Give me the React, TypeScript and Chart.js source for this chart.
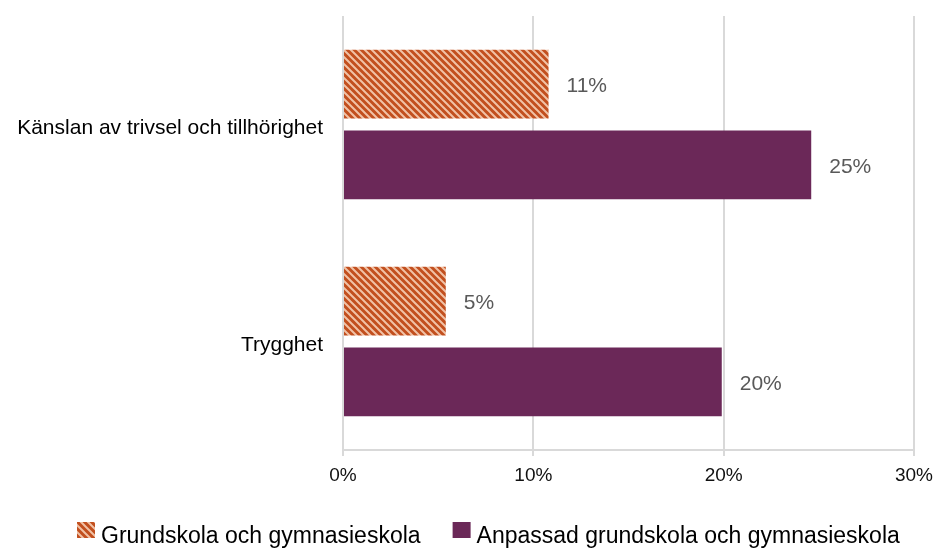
import React, { useEffect, useRef } from "react";
import { Chart, registerables } from "chart.js";

Chart.register(...registerables);

const categories = ["Känslan av trivsel och tillhörighet", "Trygghet"];
const seriesNames = ["Grundskola och gymnasieskola", "Anpassad grundskola och gymnasieskola"];
const grundValues = [10.8, 5.4];
const anpassadValues = [24.6, 19.9];
const xTicks = [0, 10, 20, 30];

const FONT = "'Liberation Sans', Arial, sans-serif";

function makeHatch(): CanvasPattern | string {
  const size = 7;
  const c = document.createElement("canvas");
  c.width = size;
  c.height = size;
  const g = c.getContext("2d");
  if (!g) return "#C4511F";
  g.fillStyle = "#C24F1E";
  g.fillRect(0, 0, size, size);
  g.strokeStyle = "#F1C2A6";
  g.lineWidth = 2;
  g.beginPath();
  g.moveTo(-1, -1);
  g.lineTo(size + 1, size + 1);
  g.moveTo(-1, size - 1);
  g.lineTo(1, size + 1);
  g.moveTo(size - 1, -1);
  g.lineTo(size + 1, 1);
  g.stroke();
  const p = g.createPattern(c, "repeat");
  return p || "#C4511F";
}

const dataLabelPlugin = {
  id: "dataLabels",
  afterDatasetsDraw(chart: any) {
    const ctx = chart.ctx;
    ctx.save();
    ctx.font = `21px ${FONT}`;
    ctx.fillStyle = "#595959";
    ctx.textAlign = "left";
    ctx.textBaseline = "middle";
    chart.data.datasets.forEach((ds: any, di: number) => {
      const meta = chart.getDatasetMeta(di);
      meta.data.forEach((el: any, i: number) => {
        const v = ds.data[i];
        ctx.fillText(Math.round(v) + "%", el.x + 18, el.y + 2);
      });
    });
    ctx.restore();
  },
};

const customLegendPlugin = {
  id: "customLegend",
  afterDraw(chart: any) {
    const ctx = chart.ctx;
    ctx.save();
    ctx.font = `23px ${FONT}`;
    const boxW = 18;
    const boxH = 16;
    const gapBoxText = 6;
    const gapItems = 32;
    let x = 77;
    const boxTop = 522;
    const baseline = 543;
    chart.data.datasets.forEach((ds: any) => {
      const tw = ctx.measureText(ds.label).width;
      ctx.fillStyle = ds.backgroundColor;
      ctx.fillRect(x, boxTop, boxW, boxH);
      ctx.fillStyle = "#000000";
      ctx.textAlign = "left";
      ctx.textBaseline = "alphabetic";
      ctx.fillText(ds.label, x + boxW + gapBoxText, baseline);
      x += boxW + gapBoxText + tw + gapItems;
    });
    ctx.restore();
  },
};

function zeroPadding(scale: any) {
  scale.paddingTop = 0;
  scale.paddingBottom = 0;
  scale.paddingLeft = 0;
  scale.paddingRight = 0;
}

export default function App() {
  const ref = useRef<HTMLCanvasElement | null>(null);

  useEffect(() => {
    document.body.style.margin = "0";
    if (!ref.current) return;
    const hatch = makeHatch();
    const chart = new Chart(ref.current, {
      type: "bar",
      data: {
        labels: categories,
        datasets: [
          {
            label: seriesNames[0],
            data: grundValues,
            backgroundColor: hatch as any,
            borderWidth: 0,
            categoryPercentage: 0.745,
            barPercentage: 0.85,
          },
          {
            label: seriesNames[1],
            data: anpassadValues,
            backgroundColor: "#6B2858",
            borderWidth: 0,
            categoryPercentage: 0.745,
            barPercentage: 0.85,
          },
        ],
      },
      options: {
        indexAxis: "y",
        animation: false,
        responsive: false,
        maintainAspectRatio: false,
        layout: { padding: { top: 16, right: 22, left: 0, bottom: 0 } },
        plugins: {
          legend: { display: false },
          tooltip: { enabled: false },
        },
        scales: {
          x: {
            min: xTicks[0],
            max: xTicks[xTicks.length - 1],
            afterBuildTicks(scale: any) {
              scale.ticks = xTicks.map((v) => ({ value: v }));
            },
            afterFit(scale: any) {
              scale.height = 98;
              zeroPadding(scale);
            },
            ticks: {
              callback: (v: any) => v + "%",
              font: { family: FONT, size: 19 },
              color: "#111111",
              padding: 8,
              maxRotation: 0,
            },
            grid: {
              color: "#d9d9d9",
              lineWidth: 2,
              tickLength: 6,
              drawTicks: true,
            },
            border: { display: true, color: "#d9d9d9", width: 2 },
          },
          y: {
            afterFit(scale: any) {
              scale.width = 343;
              zeroPadding(scale);
            },
            ticks: {
              font: { family: FONT, size: 21 },
              color: "#000000",
              padding: 12,
              labelOffset: 4,
            },
            grid: { display: false },
            border: { display: false },
          },
        },
      },
      plugins: [dataLabelPlugin, customLegendPlugin],
    });
    return () => chart.destroy();
  }, []);

  return (
    <div style={{ width: 936, height: 548 }}>
      <canvas ref={ref} width={936} height={548} style={{ display: "block", width: 936, height: 548 }} />
    </div>
  );
}
